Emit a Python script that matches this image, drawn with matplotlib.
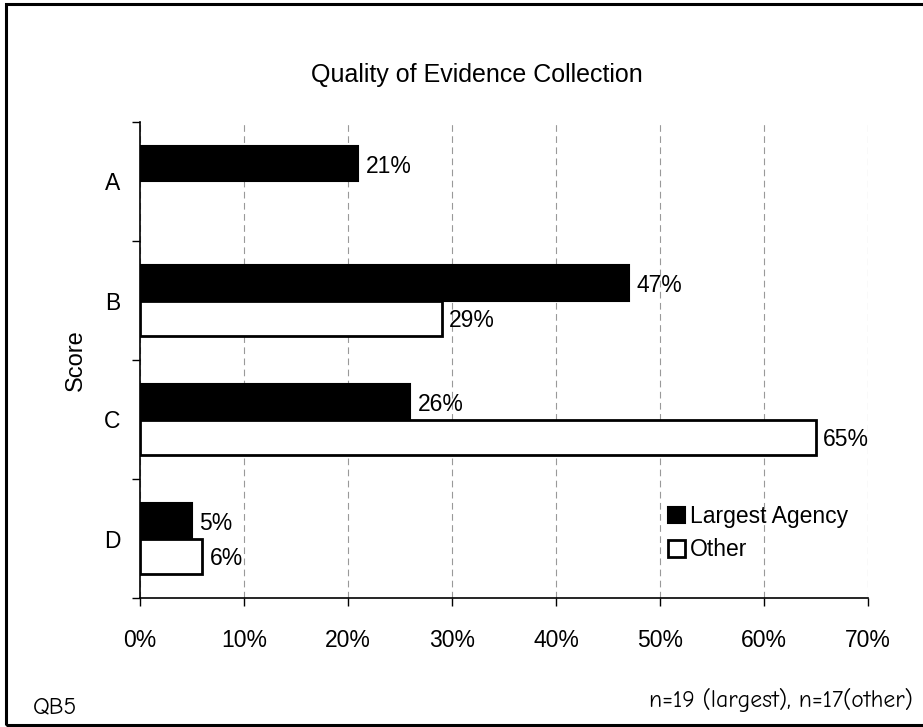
import matplotlib
matplotlib.use("Agg")
import matplotlib.pyplot as plt
import numpy as np
from matplotlib.patches import Rectangle

plt.rcParams['font.family'] = ['Liberation Sans', 'DejaVu Sans']

categories = ["A", "B", "C", "D"]
largest = [21, 47, 26, 5]
other = [0, 29, 65, 6]
x_ticks = [0, 10, 20, 30, 40, 50, 60, 70]
title = "Quality of Evidence Collection"
series_names = ["Largest Agency", "Other"]

W, H = 923, 727
fig = plt.figure(figsize=(W / 100, H / 100), dpi=100)

# Frame around the whole figure
fig.patches.append(Rectangle((6 / W, 2 / H), 1.0, 721 / H,
                             transform=fig.transFigure, fill=False,
                             edgecolor="black", linewidth=2.2, clip_on=False))

ax = fig.add_axes([140 / W, 129 / H, 728 / W, 476 / H])

FS = 16.5
y = np.arange(len(categories))
h = 0.3
ax.barh(y - h / 2, largest, height=h, color="black", edgecolor="black", linewidth=1.5, zorder=3)
for yi, v in zip(y, other):
    if v > 0:
        ax.barh(yi + h / 2, v, height=h, color="white", edgecolor="black", linewidth=2, zorder=3)

for yi, v in zip(y, largest):
    ax.text(v + 0.7, yi - h / 2 + 0.02, f"{v}%", va="center", ha="left", fontsize=FS, zorder=4)
for yi, v in zip(y, other):
    if v > 0:
        ax.text(v + 0.7, yi + h / 2 + 0.02, f"{v}%", va="center", ha="left", fontsize=FS, zorder=4)

ax.set_xlim(0, 70)
ax.set_ylim(3.5, -0.5)
ax.set_xticks(x_ticks)
ax.set_xticklabels([f"{t}%" for t in x_ticks], fontsize=FS)
ax.tick_params(axis="x", length=6, width=1, direction="out", pad=16)
ax.set_yticks(y)
ax.set_yticklabels(categories, fontsize=FS)
ax.tick_params(axis="y", which="major", length=0, pad=14)
ax.set_yticks(np.arange(-0.5, len(categories), 1.0), minor=True)
ax.tick_params(axis="y", which="minor", length=6, width=1, direction="out")

ax.xaxis.grid(True, color="#999999", linestyle=(0, (6, 4)), linewidth=0.8, zorder=0)
ax.set_axisbelow(True)
for s in ["top", "right"]:
    ax.spines[s].set_visible(False)
for s in ["left", "bottom"]:
    ax.spines[s].set_linewidth(1.2)

ax.set_ylabel("Score", fontsize=17, labelpad=12)
fig.text(477 / W, 1 - 75 / H, title, ha="center", va="center", fontsize=18)

handles = [
    Rectangle((0, 0), 1, 1, facecolor="black", edgecolor="black", linewidth=1.5),
    Rectangle((0, 0), 1, 1, facecolor="white", edgecolor="black", linewidth=2),
]
leg = ax.legend(handles, series_names, loc="upper left",
                bbox_to_anchor=(668 / W, 1 - 505 / H), bbox_transform=fig.transFigure,
                frameon=False, fontsize=FS, handlelength=0.75, handleheight=0.75,
                handletextpad=0.2, labelspacing=0.45, borderaxespad=0, borderpad=0)

fig.text(33 / W, 1 - 707 / H, "QB5", ha="left", va="center", fontsize=17,
         family=["Comic Neue", "DejaVu Sans"])
fig.text(913 / W, 1 - 700 / H, "n=19 (largest), n=17(other)", ha="right", va="center",
         fontsize=17, family=["Comic Neue", "DejaVu Sans"])

fig.savefig("out.png", dpi=100)
